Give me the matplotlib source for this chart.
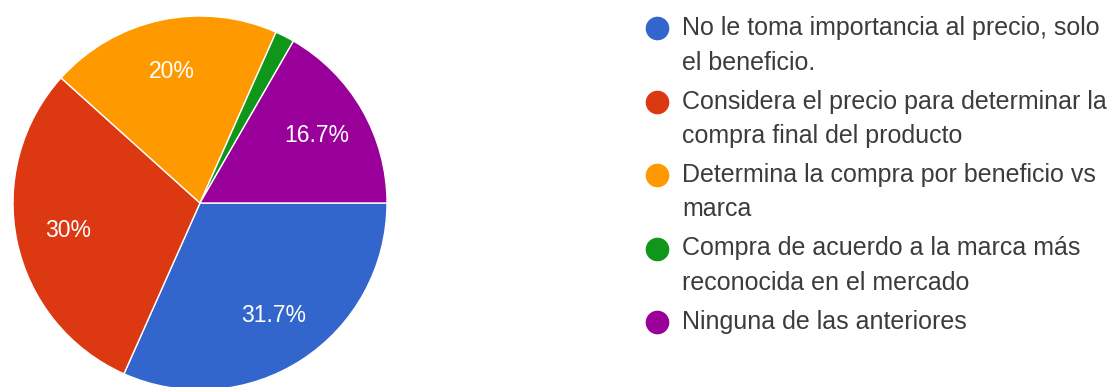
import matplotlib
matplotlib.use("Agg")
import matplotlib.pyplot as plt

W, H, DPI = 1114, 387, 100

# survey answers (count of responses per option)
options = [
    ["No le toma importancia al precio, solo", "el beneficio."],
    ["Considera el precio para determinar la", "compra final del producto"],
    ["Determina la compra por beneficio vs", "marca"],
    ["Compra de acuerdo a la marca más", "reconocida en el mercado"],
    ["Ninguna de las anteriores"],
]
counts = [19, 18, 12, 1, 10]
colors = ["#3366cc", "#dc3912", "#ff9900", "#109618", "#990099"]

plt.rcParams["font.family"] = ["Liberation Sans", "DejaVu Sans"]

fig = plt.figure(figsize=(W / DPI, H / DPI), dpi=DPI)
fig.patch.set_facecolor("white")

# pie sits in a square box: centre (200, 203) px, radius 187 px
cx, cy, r = 200, 203, 187
ax = fig.add_axes([(cx - r) / W, (H - cy - r) / H, 2 * r / W, 2 * r / H])


def pct_label(p):
    return "" if p < 5 else ("%.1f%%" % p).replace(".0%", "%")


ax.pie(counts, colors=colors, startangle=0, counterclock=False,
       autopct=pct_label, pctdistance=0.72,
       wedgeprops=dict(edgecolor="white", linewidth=1),
       textprops=dict(color="white", fontsize=16.5))
ax.set_xlim(-1, 1)
ax.set_ylim(-1, 1)
ax.set_aspect("equal")
ax.axis("off")

# legend drawn on a pixel-coordinate overlay
lg = fig.add_axes([0, 0, 1, 1])
lg.set_xlim(0, W)
lg.set_ylim(H, 0)
lg.axis("off")
y0, pitch, gap = 28, 73.5, 34.5
for i, (lines, c) in enumerate(zip(options, colors)):
    y = y0 + i * pitch
    lg.plot(657, y, "o", ms=16, color=c, mec=c)
    for k, line in enumerate(lines):
        lg.text(682, y + k * gap, line, fontsize=18, color="#3c3c3c",
                va="center", ha="left")

fig.savefig("out.png", dpi=DPI)
